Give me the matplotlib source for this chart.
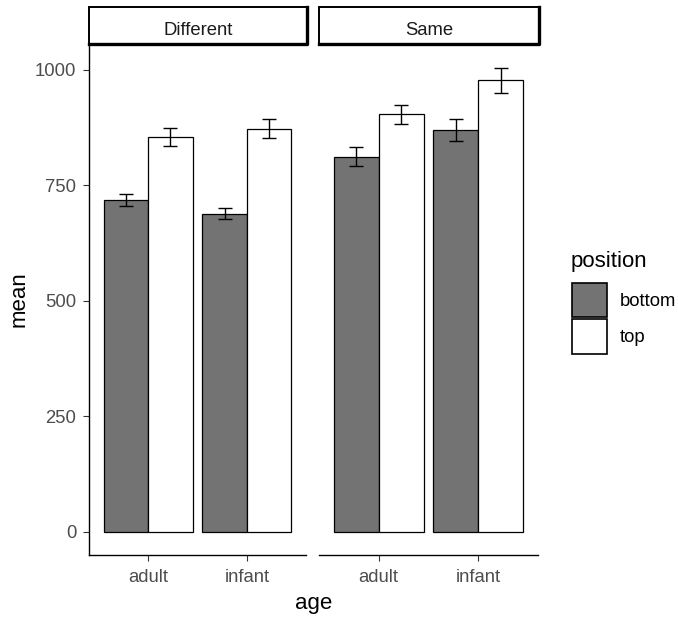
import matplotlib.pyplot as plt
from matplotlib.patches import Rectangle
from matplotlib.lines import Line2D
import numpy as np

plt.rcParams["font.family"] = ["Liberation Sans", "DejaVu Sans"]

# mean response per condition, with error half-widths
conditions = ["Different", "Same"]
ages = ["adult", "infant"]
positions = ["bottom", "top"]

mean_bottom = {"Different": [719, 689], "Same": [812, 870]}
mean_top = {"Different": [855, 873], "Same": [904, 978]}
err_bottom = {"Different": [13, 11], "Same": [21, 24]}
err_top = {"Different": [20, 21], "Same": [21, 27]}

fill_colors = {"bottom": "#737373", "top": "#ffffff"}
grey = "#4d4d4d"
small = 13.3
big = 16

W, H = 678, 619
fig = plt.figure(figsize=(W / 100, H / 100), dpi=100)


def fx(px):
    return px / W


def fy(py):
    return (H - py) / H


panel_x0 = [89, 319]
panel_x1 = [306, 538]
panel_top, panel_bot = 44, 555

bw = 0.45
x = np.arange(1, len(ages) + 1)
axes = []
for i, cond in enumerate(conditions):
    ax = fig.add_axes([fx(panel_x0[i]), fy(panel_bot), fx(panel_x1[i] - panel_x0[i]),
                       (panel_bot - panel_top) / H])
    for pos, off, vals, errs in [("bottom", -bw / 2, mean_bottom[cond], err_bottom[cond]),
                                 ("top", bw / 2, mean_top[cond], err_top[cond])]:
        ax.bar(x + off, vals, width=bw, color=fill_colors[pos],
               edgecolor="black", linewidth=0.9, zorder=2)
        ax.errorbar(x + off, vals, yerr=errs, fmt="none", ecolor="black",
                    elinewidth=1.0, capsize=4.7, capthick=1.0, zorder=3)
    ax.set_xlim(0.4, 2.6)
    ax.set_ylim(-50, 1056)
    ax.set_xticks(x)
    ax.set_xticklabels(ages)
    ax.set_yticks([0, 250, 500, 750, 1000])
    ax.tick_params(axis="both", color="#333333", length=4, width=0.8,
                   labelsize=small, labelcolor=grey)
    ax.tick_params(axis="x", pad=6)
    ax.tick_params(axis="y", pad=5)
    for s in ["top", "right"]:
        ax.spines[s].set_visible(False)
    ax.spines["bottom"].set_linewidth(1.0)
    ax.spines["left"].set_linewidth(1.0)
    if i > 0:
        ax.spines["left"].set_visible(False)
        ax.tick_params(axis="y", left=False, labelleft=False)
    axes.append(ax)

    # facet strip
    sx0, sx1, sy0, sy1 = panel_x0[i], panel_x1[i] + 1, 7, 43.5
    sax = fig.add_axes([fx(sx0), fy(sy1), fx(sx1 - sx0), (sy1 - sy0) / H])
    sax.set_xlim(0, 1)
    sax.set_ylim(0, 1)
    sax.axis("off")
    sax.add_patch(Rectangle((0, 0), 1, 1, facecolor="white", edgecolor="black",
                            linewidth=1.4, transform=sax.transAxes, clip_on=False))
    sax.add_line(Line2D([1, 1, 0], [1, 0, 0], color="black", linewidth=2.4,
                        transform=sax.transAxes, clip_on=False))
    sax.text(0.5, 0.24, cond, ha="center", va="baseline", fontsize=small, color="#1a1a1a")

fig.text(fx(19), fy((panel_top + panel_bot) / 2), "mean", rotation=90,
         ha="center", va="center", fontsize=big)
fig.text(fx((89 + 538) / 2), fy(604), "age", ha="center", va="center", fontsize=big)

# legend
fig.text(fx(571), fy(261), "position", ha="left", va="center", fontsize=big)
key_top = [282.5, 319]
for p, ky in zip(positions, key_top):
    fig.add_artist(Rectangle((fx(572), fy(ky + 34.5)), fx(34.5), 34.5 / H,
                             facecolor=fill_colors[p], edgecolor="black",
                             linewidth=1.2, transform=fig.transFigure))
    fig.text(fx(620), fy(ky + 19), p, ha="left", va="center", fontsize=small)

fig.savefig("out.png", dpi=100)
